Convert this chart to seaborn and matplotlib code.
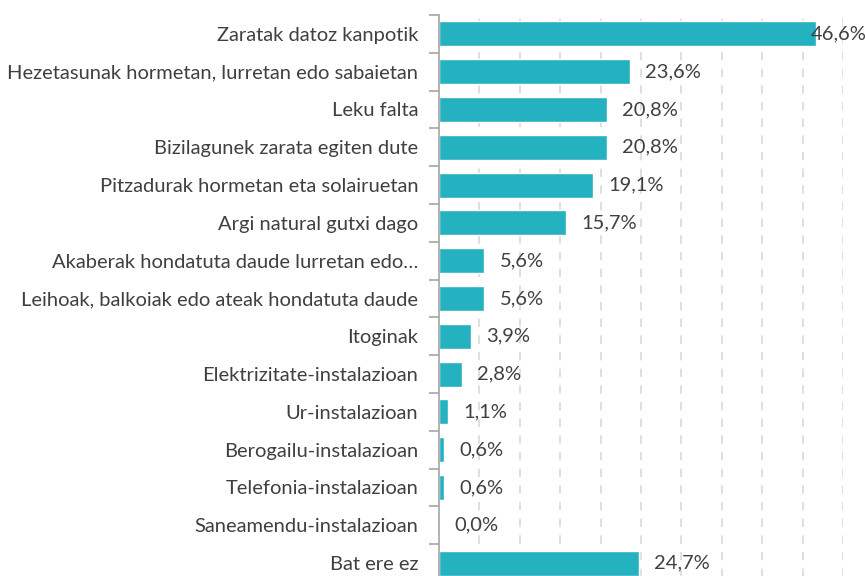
import matplotlib
matplotlib.use("Agg")
import matplotlib.pyplot as plt
import seaborn as sns
import pandas as pd
from matplotlib.ticker import FixedLocator

categories = [
    "Zaratak datoz kanpotik",
    "Hezetasunak hormetan, lurretan edo sabaietan",
    "Leku falta",
    "Bizilagunek zarata egiten dute",
    "Pitzadurak hormetan eta solairuetan",
    "Argi natural gutxi dago",
    "Akaberak hondatuta daude lurretan edo…",
    "Leihoak, balkoiak edo ateak hondatuta daude",
    "Itoginak",
    "Elektrizitate-instalazioan",
    "Ur-instalazioan",
    "Berogailu-instalazioan",
    "Telefonia-instalazioan",
    "Saneamendu-instalazioan",
    "Bat ere ez",
]
values = [46.6, 23.6, 20.8, 20.8, 19.1, 15.7, 5.6, 5.6, 3.9, 2.8, 1.1, 0.6, 0.6, 0.0, 24.7]

df = pd.DataFrame({"cat": categories, "val": values})

sns.set_theme(style="white")
plt.rcParams["font.family"] = ["Lato", "DejaVu Sans"]

TEXT = "#404040"
BAR = "#24B1C0"
FS = 14.5

fig = plt.figure(figsize=(8.65, 5.76), dpi=100)
ax = fig.add_axes([439/865, -6/576, (843-439)/865, (582-15)/576])

sns.barplot(data=df, y="cat", x="val", orient="h", color=BAR, width=0.66,
            saturation=1, ax=ax, order=categories)

ax.set_xlim(0, 50)
ax.set_ylim(len(categories) - 0.5, -0.5)
ax.set_xlabel("")
ax.set_ylabel("")
ax.set_xticks([5, 10, 15, 20, 25, 30, 35, 40, 45, 50])
ax.tick_params(axis="x", bottom=False, labelbottom=False)
ax.xaxis.grid(True, color="#d9d9d9", linestyle=(0, (5, 5)), linewidth=1.2)
ax.set_axisbelow(True)

ax.set_yticks(range(len(categories)))
ax.set_yticklabels(categories, fontsize=FS, color=TEXT)
ax.tick_params(axis="y", length=0, pad=15)
ax.yaxis.set_minor_locator(FixedLocator([i - 0.5 for i in range(len(categories) + 1)]))
ax.tick_params(axis="y", which="minor", length=7, width=1.2, color="#a6a6a6", left=True)

for s in ["top", "right", "bottom"]:
    ax.spines[s].set_visible(False)
ax.spines["left"].set_color("#a6a6a6")
ax.spines["left"].set_linewidth(1.2)

vmax = max(values)
for i, v in enumerate(values):
    lab = f"{v:.1f}%".replace(".", ",")
    off = -3.5 if v == vmax else 11
    ax.annotate(lab, xy=(v, i), xytext=(off, 0), textcoords="offset points",
                ha="left", va="center", fontsize=FS, color=TEXT, annotation_clip=False)

fig.savefig("out.png", dpi=100)
